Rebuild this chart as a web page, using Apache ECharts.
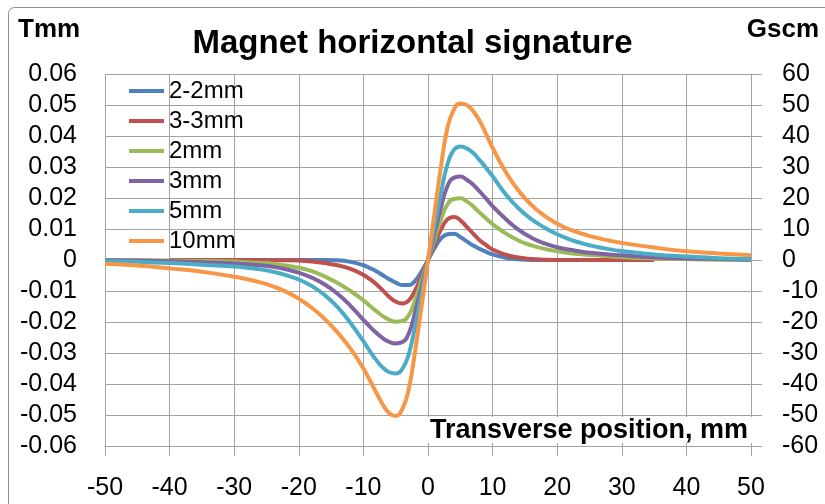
<!DOCTYPE html>
<html>
<head>
<meta charset="utf-8">
<script src="https://cdn.jsdelivr.net/npm/echarts@6/dist/echarts.min.js"></script>
<style>
html,body{margin:0;padding:0;background:#fff;}
#chart{width:825px;height:504px;}
</style>
</head>
<body>
<div id="chart"></div>
<script>
// ---- data ----
const xPos = [-50,-45,-40,-35,-30,-28,-26,-24,-22,-20,
              -18,-16,-14,-12,-10,-9,-8,-7,-6,-5,
              -4,-3,-2,-1,0,1,2,3,4,5,
              6,7,8,9,10,12,14,16,18,20,
              22,24,26,28,30,35,40,45,50];
const seriesNames = ['2-2mm','3-3mm','2mm','3mm','5mm','10mm'];
const s22 = [null,null,null,null,0,0,0,0,0,0,
             0,0,-0.0001,-0.0006,-0.0017,-0.0026,-0.0036,-0.0049,-0.0062,-0.0073,
             -0.0081,-0.0081,-0.0067,-0.0037,0,0.0038,0.0069,0.0083,0.0085,0.0074,
             0.0060,0.0047,0.0036,0.0026,0.0018,0.0007,0.0002,0,0,0,
             0,0,null,null,null,null,null,null,null];
const s33 = [null,null,0,0,0,0,0,-0.0001,-0.0001,-0.0002,
             -0.0005,-0.0010,-0.0017,-0.0029,-0.0048,-0.0062,-0.0078,-0.0098,-0.0119,-0.0134,
             -0.0140,-0.0131,-0.0098,-0.0052,0,0.0052,0.0098,0.0131,0.0139,0.0128,
             0.0107,0.0085,0.0064,0.0048,0.0034,0.0017,0.0008,0.0003,0.0001,0,
             0,0,0,0,0,0,null,null,null];
const s2 = [0,-0.0001,-0.0002,-0.0003,-0.0005,-0.0007,-0.0009,-0.0012,-0.0018,-0.0025,
            -0.0036,-0.0053,-0.0074,-0.0100,-0.0130,-0.0148,-0.0165,-0.0181,-0.0193,-0.0199,
            -0.0197,-0.0179,-0.0130,-0.0066,0,0.0066,0.0130,0.0179,0.0197,0.0199,
            0.0189,0.0173,0.0153,0.0134,0.0116,0.0086,0.0063,0.0047,0.0036,0.0028,
            0.0022,0.0018,0.0015,0.0012,0.0009,0.0005,0.0003,0.0001,0];
const s3 = [-0.0001,-0.0002,-0.0004,-0.0007,-0.0011,-0.0014,-0.0017,-0.0022,-0.0030,-0.0041,
            -0.0057,-0.0079,-0.0109,-0.0148,-0.0193,-0.0215,-0.0235,-0.0252,-0.0264,-0.0269,
            -0.0265,-0.0238,-0.0168,-0.0086,0,0.0086,0.0168,0.0238,0.0265,0.0269,
            0.0259,0.0243,0.0221,0.0198,0.0174,0.0133,0.0098,0.0072,0.0054,0.0041,
            0.0033,0.0026,0.0022,0.0018,0.0015,0.0009,0.0005,0.0003,0.0001];
const s5 = [-0.0003,-0.0006,-0.0010,-0.0015,-0.0021,-0.0025,-0.0030,-0.0038,-0.0049,-0.0063,
            -0.0084,-0.0113,-0.0152,-0.0203,-0.0262,-0.0294,-0.0323,-0.0347,-0.0362,-0.0366,
            -0.0352,-0.0305,-0.0215,-0.0108,0,0.0108,0.0215,0.0308,0.0355,0.0366,
            0.0360,0.0345,0.0322,0.0297,0.0270,0.0213,0.0167,0.0132,0.0105,0.0083,
            0.0066,0.0053,0.0043,0.0035,0.0029,0.0018,0.0011,0.0006,0.0003];
const s10 = [-0.0012,-0.0018,-0.0027,-0.0038,-0.0054,-0.0062,-0.0072,-0.0085,-0.0102,-0.0125,
             -0.0154,-0.0190,-0.0234,-0.0286,-0.0350,-0.0388,-0.0428,-0.0466,-0.0494,-0.0503,
             -0.0482,-0.0418,-0.0295,-0.0150,0,0.0150,0.0300,0.0425,0.0485,0.0505,
             0.0500,0.0480,0.0448,0.0406,0.0362,0.0285,0.0224,0.0178,0.0143,0.0117,
             0.0098,0.0084,0.0072,0.0063,0.0055,0.0040,0.0028,0.0021,0.0015];
const seriesValues = [s22, s33, s2, s3, s5, s10];
const colors = ['#4F81BD','#C0504D','#9BBB59','#8064A2','#4BACC6','#F79646'];
const xTicks = {min:-50, max:50, step:10};
const leftTicks = {min:-0.06, max:0.06, step:0.01};
const rightTicks = {min:-60, max:60, step:10};

// ---- chart ----
const FONT = 'Liberation Sans, Arial, sans-serif';
const GRID = '#a3a3a3';
const chart = echarts.init(document.getElementById('chart'), null, {renderer:'canvas'});

const series = seriesNames.map((name, k) => ({
  name: name,
  type: 'line',
  yAxisIndex: 0,
  smooth: 0.5,
  symbol: 'none',
  lineStyle: {width: 4, color: colors[k]},
  itemStyle: {color: colors[k]},
  data: xPos.map((x, i) => [x, seriesValues[k][i]]).filter(p => p[1] !== null && p[1] !== undefined),
  z: 2 + k
}));

chart.setOption({
  animation: false,
  backgroundColor: '#fff',
  grid: {left: 105, right: 74, top: 74, bottom: 58, containLabel: false},
  legend: {
    orient: 'vertical',
    left: 129,
    top: 79,
    padding: 0,
    itemGap: 6,
    itemWidth: 35,
    itemHeight: 4,
    icon: 'rect',
    data: seriesNames,
    textStyle: {fontFamily: FONT, fontSize: 24, color: '#000', lineHeight: 24}
  },
  xAxis: {
    type: 'value',
    min: xTicks.min, max: xTicks.max, interval: xTicks.step,
    axisLine: {show: true, onZero: false, lineStyle: {color: GRID, width: 1}},
    axisTick: {show: true, length: 10, inside: false, lineStyle: {color: GRID}},
    splitLine: {show: true, lineStyle: {color: GRID, width: 1}},
    axisLabel: {fontFamily: FONT, fontSize: 25, color: '#000', margin: 30}
  },
  yAxis: [{
    type: 'value',
    position: 'left',
    min: leftTicks.min, max: leftTicks.max, interval: leftTicks.step,
    axisLine: {show: true, lineStyle: {color: GRID, width: 1}},
    axisTick: {show: true, length: 10, lineStyle: {color: GRID}},
    splitLine: {show: true, lineStyle: {color: GRID, width: 1}},
    axisLabel: {fontFamily: FONT, fontSize: 25, color: '#000', margin: 28,
      formatter: v => Math.abs(v) < 1e-9 ? '0' : v.toFixed(2)}
  }, {
    type: 'value',
    position: 'right',
    min: rightTicks.min, max: rightTicks.max, interval: rightTicks.step,
    axisLine: {show: true, lineStyle: {color: GRID, width: 1}},
    axisTick: {show: true, length: 11, lineStyle: {color: GRID}},
    splitLine: {show: false},
    axisLabel: {fontFamily: FONT, fontSize: 25, color: '#000', margin: 31,
      formatter: v => String(Math.round(v))}
  }],
  graphic: [
    {type: 'rect', z: 0, silent: true,
      shape: {x: 8.5, y: 7.5, width: 840, height: 520, r: 6},
      style: {fill: null, stroke: '#8c8c8c', lineWidth: 1}},
    {type: 'text', z: 100, left: 'center', top: 27,
      style: {text: 'Magnet horizontal signature', font: 'bold 33px ' + FONT, fill: '#000'}},
    {type: 'text', z: 100, left: 18, top: 17,
      style: {text: 'Tmm', font: 'bold 26px ' + FONT, fill: '#000'}},
    {type: 'text', z: 100, right: 6, top: 17,
      style: {text: 'Gscm', font: 'bold 26px ' + FONT, fill: '#000'}},
    {type: 'rect', z: 99, silent: true,
      shape: {x: 426, y: 417, width: 328, height: 26},
      style: {fill: '#fff', stroke: null}},
    {type: 'text', z: 100, right: 77, top: 417,
      style: {text: 'Transverse position, mm', font: 'bold 27px ' + FONT, fill: '#000'}}
  ],
  series: series
});
</script>
</body>
</html>
